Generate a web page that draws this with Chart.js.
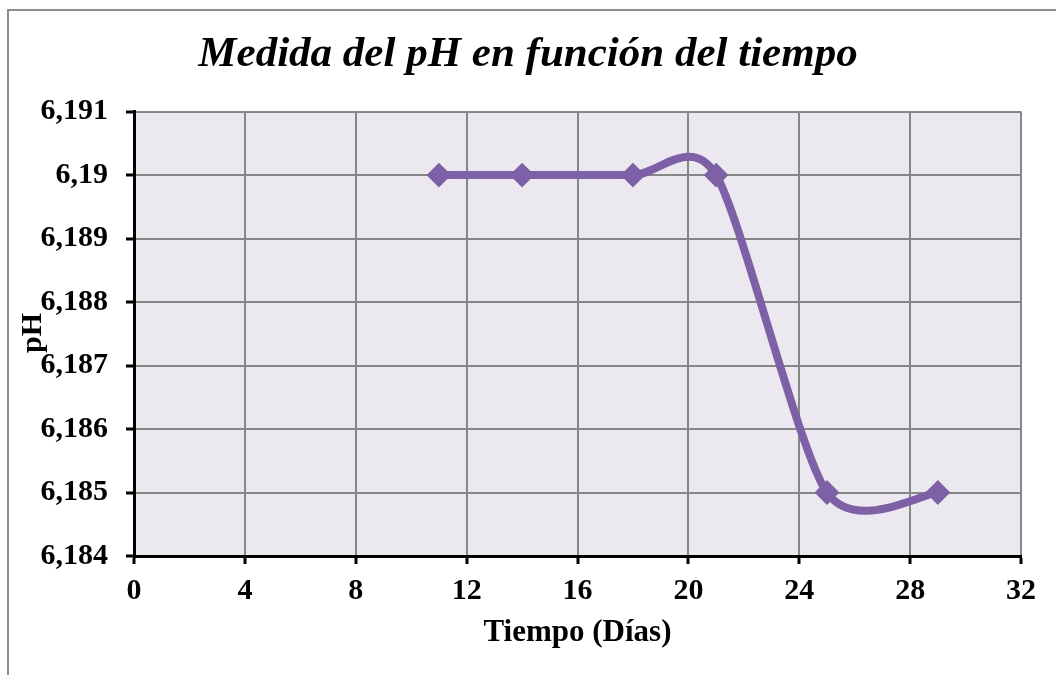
<!DOCTYPE html>
<html>
<head>
<meta charset="utf-8">
<script src="https://cdn.jsdelivr.net/npm/chart.js@4"></script>
<style>
  html, body { margin: 0; padding: 0; background: #fff; }
  #wrap { width: 1056px; height: 675px; position: relative; }
</style>
</head>
<body>
<div id="wrap"><canvas id="chartPh"></canvas></div>
<script>
// --- data ---
const dias = [11, 14, 18, 21, 25, 29];
const phValores = [6.19, 6.19, 6.19, 6.19, 6.185, 6.185];
const yTickLabels = ["6,184", "6,185", "6,186", "6,187", "6,188", "6,189", "6,19", "6,191"];
const xTicks = [0, 4, 8, 12, 16, 20, 24, 28, 32];

const colors = {
  line: "#7d60a6",
  plotBg: "#ebe9ef",
  grid: "#878787",
  frame: "#8c8c8c",
};

const serif = "'Liberation Serif', 'Times New Roman', serif";

// Excel style smoothing: control arms along (next - prev)
const smoothK = 1 / 7.7;
const excelSmooth = {
  id: "excelSmooth",
  beforeDatasetsDraw(chart) {
    chart.data.datasets.forEach((ds, di) => {
      const meta = chart.getDatasetMeta(di);
      const pts = meta.data;
      const n = pts.length;
      for (let i = 0; i < n; i++) {
        const p0 = pts[Math.max(i - 1, 0)];
        const p1 = pts[i];
        const p2 = pts[Math.min(i + 1, n - 1)];
        const dx = (p2.x - p0.x) * smoothK;
        const dy = (p2.y - p0.y) * smoothK;
        p1.cp1x = p1.x - dx;
        p1.cp1y = p1.y - dy;
        p1.cp2x = p1.x + dx;
        p1.cp2y = p1.y + dy;
      }
      meta.dataset._pointsUpdated = true;
    });
  },
};

// plot background + outer frame + rotated "pH" label
const decor = {
  id: "decor",
  beforeDraw(chart) {
    const { ctx, chartArea: a } = chart;
    ctx.save();
    ctx.fillStyle = colors.plotBg;
    ctx.fillRect(a.left, a.top, a.right - a.left, a.bottom - a.top);
    ctx.strokeStyle = colors.frame;
    ctx.lineWidth = 2;
    ctx.beginPath();
    ctx.moveTo(8, 700);
    ctx.lineTo(8, 10);
    ctx.lineTo(1100, 10);
    ctx.stroke();
    ctx.restore();
  },
  afterDraw(chart) {
    const { ctx } = chart;
    ctx.save();
    ctx.translate(33, 333);
    ctx.rotate(-Math.PI / 2);
    ctx.font = "bold 30px " + serif;
    ctx.fillStyle = "#000";
    ctx.textAlign = "center";
    ctx.textBaseline = "middle";
    ctx.fillText("pH", 0, 0);
    ctx.restore();
  },
};

new Chart(document.getElementById("chartPh"), {
  type: "line",
  data: {
    datasets: [
      {
        label: "pH",
        data: dias.map((d, i) => ({ x: d, y: phValores[i] })),
        borderColor: colors.line,
        backgroundColor: colors.line,
        borderWidth: 8,
        tension: 0.5,
        pointStyle: "rectRot",
        pointRadius: 11,
        pointBorderWidth: 2,
        pointBackgroundColor: colors.line,
        pointBorderColor: colors.line,
      },
    ],
  },
  options: {
    responsive: true,
    maintainAspectRatio: false,
    animation: false,
    layout: { padding: 0 },
    plugins: {
      legend: { display: false },
      tooltip: { enabled: false },
      title: {
        display: true,
        text: "Medida del pH en función del tiempo",
        color: "#000",
        font: { family: serif, size: 43, weight: "bold", style: "italic", lineHeight: 1.2 },
        padding: { top: 29, bottom: 31 },
      },
    },
    scales: {
      x: {
        type: "linear",
        min: 0,
        max: 32,
        afterBuildTicks: (s) => { s.ticks = xTicks.map((v) => ({ value: v })); },
        afterFit: (s) => { s.height = 119; },
        ticks: {
          color: "#000",
          font: { family: serif, size: 30, weight: "bold" },
          padding: 9,
          maxRotation: 0,
        },
        grid: { color: colors.grid, lineWidth: 2, tickColor: "#000", tickLength: 8, tickWidth: 3 },
        border: { color: "#000", width: 3 },
        title: {
          display: true,
          text: "Tiempo (Días)",
          color: "#000",
          font: { family: serif, size: 31, weight: "bold" },
          padding: { top: 0, bottom: 23 },
        },
      },
      y: {
        min: 6.184,
        max: 6.191,
        afterBuildTicks: (s) => {
          s.ticks = yTickLabels.map((_, i) => ({ value: 6.184 + i * 0.001 }));
        },
        afterFit: (s) => { s.width = 134; },
        ticks: {
          color: "#000",
          font: { family: serif, size: 30, weight: "bold" },
          padding: 18,
          callback: (v, i) => yTickLabels[i],
        },
        grid: { color: colors.grid, lineWidth: 2, tickColor: "#000", tickLength: 8, tickWidth: 3 },
        border: { color: "#000", width: 3 },
      },
      // empty right-hand strip so the title centres on the whole frame
      yPad: {
        position: "right",
        display: true,
        grid: { display: false },
        border: { display: false },
        ticks: { display: false },
        afterFit: (s) => { s.width = 35; },
      },
    },
  },
  plugins: [excelSmooth, decor],
});
</script>
</body>
</html>
